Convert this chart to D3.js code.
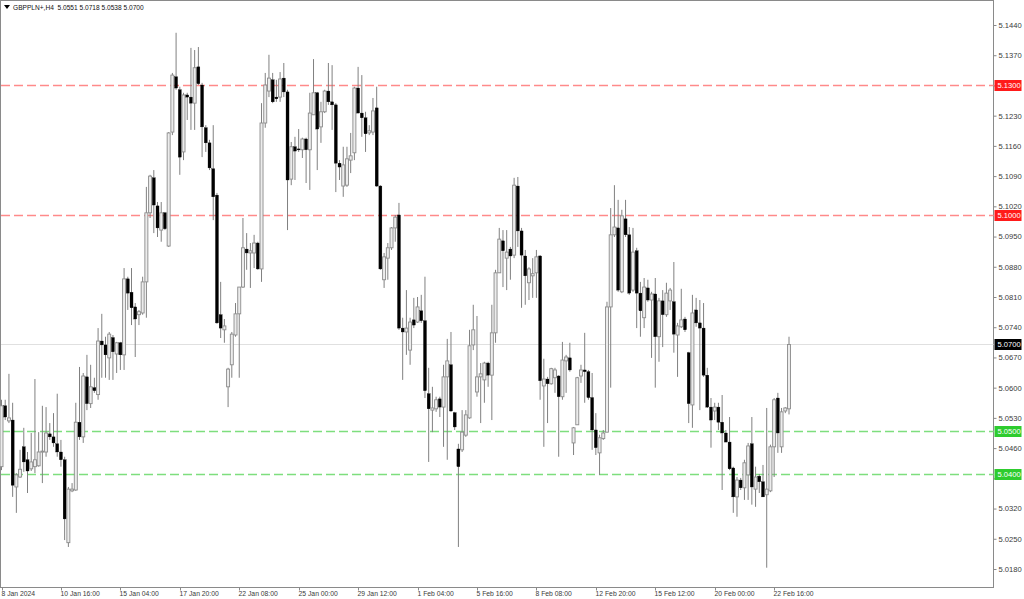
<!DOCTYPE html>
<html><head><meta charset="utf-8">
<script src="https://cdn.jsdelivr.net/npm/d3@7"></script>
<style>html,body{margin:0;padding:0;background:#fff;overflow:hidden}svg{display:block}</style>
</head><body><svg id="c" width="1024" height="599"></svg>
<script>
const symbolTitle = "GBPPLN+,H4";
const lastQuote = ["5.0551", "5.0718", "5.0538", "5.0700"];

const open = [5.0417,5.0558,5.0523,5.0525,5.0370,5.0393,5.0463,5.0433,5.0412,5.0417,
5.0419,5.0451,5.0451,5.0493,5.0486,5.0470,5.0451,5.0433,5.0241,5.0361,
5.0363,5.0520,5.0486,5.0625,5.0563,5.0600,5.0584,5.0708,5.0699,5.0669,
5.0716,5.0678,5.0704,5.0676,5.0852,5.0821,5.0787,5.0769,5.0773,5.0845,
5.1005,5.1086,5.1021,5.0965,5.1005,5.0928,5.1192,5.1320,5.1290,5.1146,
5.1278,5.1273,5.1259,5.1343,5.1301,5.1202,5.1167,5.1107,5.1046,5.0769,
5.0734,5.0602,5.0653,5.0722,5.0771,5.0833,5.0921,5.0912,5.0912,5.0935,
5.0875,5.1213,5.1287,5.1313,5.1273,5.1273,5.1317,5.1285,5.1083,5.1158,
5.1153,5.1151,5.1176,5.1151,5.1232,5.1283,5.1204,5.1239,5.1287,5.1262,
5.1255,5.1120,5.1067,5.1069,5.1127,5.1144,5.1294,5.1236,5.1225,5.1190,
5.1192,5.1248,5.1067,5.0850,5.0900,5.0924,5.0970,5.1000,5.0738,5.0729,
5.0687,5.0757,5.0752,5.0778,5.0755,5.0586,5.0548,5.0551,5.0574,5.0555,
5.0625,5.0653,5.0542,5.0458,5.0456,5.0490,5.0530,5.0699,5.0590,5.0625,
5.0618,5.0657,5.0629,5.0727,5.0866,5.0940,5.0900,5.0921,5.0907,5.1067,
5.0963,5.0905,5.0843,5.0859,5.0866,5.0905,5.0604,5.0620,5.0609,5.0623,
5.0627,5.0579,5.0662,5.0669,5.0472,5.0514,5.0627,5.0641,5.0637,5.0577,
5.0502,5.0449,5.0482,5.0497,5.0787,5.0954,5.0970,5.0822,5.0991,5.0954,
5.0826,5.0917,5.0819,5.0762,5.0831,5.0803,5.0817,5.0718,5.0801,5.0769,
5.0801,5.0799,5.0722,5.0741,5.0759,5.0681,5.0560,5.0780,5.0750,5.0738,
5.0629,5.0555,5.0546,5.0555,5.0520,5.0495,5.0474,5.0414,5.0347,5.0386,
5.0368,5.0398,5.0470,5.0365,5.0395,5.0382,5.0352,5.0361,5.0463,5.0576,
5.0463,5.0546,5.0551];

const high = [5.0572,5.0572,5.0632,5.0565,5.0402,5.0456,5.0507,5.0451,5.0495,5.0620,
5.0497,5.0558,5.0555,5.0518,5.0541,5.0586,5.0479,5.0440,5.0370,5.0379,
5.0565,5.0648,5.0634,5.0676,5.0653,5.0623,5.0738,5.0771,5.0718,5.0729,
5.0722,5.0706,5.0706,5.0877,5.0857,5.0877,5.0796,5.0780,5.0857,5.1065,
5.1093,5.1104,5.1030,5.1030,5.1007,5.1192,5.1329,5.1422,5.1297,5.1283,
5.1283,5.1387,5.1382,5.1389,5.1306,5.1208,5.1174,5.1208,5.1051,5.0845,
5.0759,5.0646,5.0729,5.0796,5.0833,5.0993,5.0958,5.0935,5.0954,5.0938,
5.1259,5.1329,5.1371,5.1329,5.1313,5.1331,5.1352,5.1290,5.1169,5.1181,
5.1199,5.1179,5.1179,5.1283,5.1361,5.1285,5.1262,5.1290,5.1352,5.1347,
5.1259,5.1127,5.1158,5.1158,5.1190,5.1297,5.1343,5.1324,5.1239,5.1208,
5.1271,5.1297,5.1069,5.0912,5.0935,5.0972,5.1000,5.1028,5.0762,5.0826,
5.0762,5.0808,5.0810,5.0815,5.0857,5.0646,5.0602,5.0579,5.0579,5.0653,
5.0713,5.0729,5.0544,5.0470,5.0548,5.0548,5.0734,5.0792,5.0766,5.0657,
5.0660,5.0660,5.0792,5.0873,5.0970,5.0965,5.0965,5.0926,5.1086,5.1088,
5.0970,5.0919,5.0879,5.0900,5.0919,5.0907,5.0667,5.0625,5.0646,5.0646,
5.0629,5.0706,5.0676,5.0704,5.0509,5.0625,5.0653,5.0727,5.0641,5.0634,
5.0541,5.0491,5.0502,5.0799,5.1016,5.1069,5.1035,5.1012,5.1035,5.0972,
5.0970,5.0924,5.0845,5.0854,5.0850,5.0822,5.0854,5.0808,5.0826,5.0843,
5.0831,5.0891,5.0750,5.0829,5.0764,5.0683,5.0815,5.0808,5.0803,5.0796,
5.0646,5.0576,5.0565,5.0565,5.0583,5.0502,5.0532,5.0417,5.0393,5.0391,
5.0433,5.0472,5.0532,5.0417,5.0400,5.0421,5.0553,5.0468,5.0576,5.0588,
5.0553,5.0555,5.0718];

const low = [5.0409,5.0525,5.0518,5.0347,5.0310,5.0391,5.0405,5.0356,5.0407,5.0402,
5.0417,5.0379,5.0440,5.0479,5.0463,5.0440,5.0417,5.0247,5.0231,5.0358,
5.0361,5.0479,5.0472,5.0548,5.0553,5.0588,5.0572,5.0623,5.0623,5.0618,
5.0618,5.0634,5.0641,5.0641,5.0780,5.0745,5.0671,5.0745,5.0769,5.0762,
5.0993,5.0958,5.0949,5.0938,5.0965,5.0926,5.1185,5.1290,5.1093,5.1127,
5.1220,5.1197,5.1197,5.1301,5.1134,5.1146,5.1104,5.0988,5.0748,5.0715,
5.0704,5.0555,5.0623,5.0718,5.0623,5.0831,5.0873,5.0831,5.0877,5.0873,
5.0845,5.1202,5.1273,5.1259,5.1262,5.1262,5.1273,5.0965,5.1069,5.1081,
5.1146,5.1132,5.1074,5.1058,5.1232,5.1104,5.1167,5.1236,5.1255,5.1197,
5.1053,5.1081,5.1042,5.1065,5.1097,5.1127,5.1236,5.1181,5.1146,5.1185,
5.1185,5.1065,5.0873,5.0831,5.0850,5.0919,5.0938,5.0734,5.0618,5.0676,
5.0653,5.0738,5.0750,5.0750,5.0576,5.0428,5.0497,5.0544,5.0532,5.0463,
5.0433,5.0544,5.0502,5.0231,5.0451,5.0486,5.0528,5.0687,5.0579,5.0518,
5.0565,5.0602,5.0525,5.0704,5.0866,5.0833,5.0826,5.0850,5.0900,5.0926,
5.0785,5.0792,5.0803,5.0808,5.0808,5.0572,5.0463,5.0518,5.0607,5.0588,
5.0440,5.0572,5.0588,5.0637,5.0444,5.0514,5.0611,5.0565,5.0572,5.0456,
5.0444,5.0398,5.0479,5.0497,5.0600,5.0949,5.0822,5.0819,5.0949,5.0815,
5.0822,5.0738,5.0718,5.0738,5.0799,5.0669,5.0600,5.0660,5.0694,5.0764,
5.0780,5.0681,5.0625,5.0738,5.0729,5.0518,5.0507,5.0741,5.0548,5.0625,
5.0553,5.0461,5.0525,5.0502,5.0363,5.0474,5.0409,5.0310,5.0301,5.0363,
5.0340,5.0340,5.0329,5.0324,5.0356,5.0347,5.0183,5.0358,5.0393,5.0449,
5.0449,5.0541,5.0538];

const close = [5.0558,5.0532,5.0530,5.0374,5.0398,5.0411,5.0428,5.0407,5.0428,5.0433,
5.0451,5.0453,5.0495,5.0486,5.0472,5.0451,5.0433,5.0296,5.0365,5.0365,
5.0520,5.0486,5.0627,5.0563,5.0602,5.0593,5.0708,5.0699,5.0676,5.0724,
5.0683,5.0704,5.0676,5.0852,5.0819,5.0785,5.0759,5.0776,5.0845,5.1005,
5.1090,5.1023,5.0970,5.1005,5.0968,5.1190,5.1324,5.1294,5.1134,5.1278,
5.1273,5.1259,5.1341,5.1304,5.1204,5.1167,5.1109,5.1042,5.0750,5.0738,
5.0743,5.0643,5.0724,5.0771,5.0833,5.0924,5.0912,5.0917,5.0935,5.0875,
5.1213,5.1301,5.1317,5.1262,5.1269,5.1315,5.1285,5.1081,5.1158,5.1148,
5.1151,5.1176,5.1151,5.1236,5.1283,5.1199,5.1239,5.1287,5.1262,5.1255,
5.1120,5.1111,5.1116,5.1130,5.1137,5.1294,5.1236,5.1225,5.1188,5.1195,
5.1241,5.1067,5.0875,5.0903,5.0924,5.0970,5.0995,5.0738,5.0729,5.0738,
5.0752,5.0745,5.0787,5.0755,5.0593,5.0551,5.0553,5.0572,5.0555,5.0625,
5.0662,5.0546,5.0509,5.0417,5.0497,5.0537,5.0697,5.0734,5.0625,5.0632,
5.0657,5.0629,5.0727,5.0866,5.0944,5.0917,5.0914,5.0905,5.1069,5.0963,
5.0907,5.0859,5.0875,5.0864,5.0903,5.0616,5.0620,5.0609,5.0644,5.0641,
5.0579,5.0664,5.0671,5.0641,5.0507,5.0623,5.0641,5.0637,5.0577,5.0502,
5.0461,5.0484,5.0495,5.0787,5.0954,5.0972,5.0826,5.0998,5.0954,5.0819,
5.0914,5.0819,5.0778,5.0833,5.0803,5.0817,5.0718,5.0801,5.0769,5.0819,
5.0826,5.0724,5.0743,5.0757,5.0734,5.0563,5.0773,5.0750,5.0738,5.0629,
5.0555,5.0525,5.0555,5.0520,5.0495,5.0474,5.0412,5.0347,5.0386,5.0368,
5.0426,5.0465,5.0370,5.0393,5.0382,5.0347,5.0365,5.0463,5.0572,5.0495,
5.0544,5.0553,5.0700];

const timeLabels = ["8 Jan 2024","10 Jan 16:00","15 Jan 04:00","17 Jan 20:00","22 Jan 08:00",
"25 Jan 00:00","29 Jan 12:00","1 Feb 04:00","5 Feb 16:00","8 Feb 08:00","12 Feb 20:00",
"15 Feb 12:00","20 Feb 00:00","22 Feb 16:00"];
const timeLabelBars = [0,16,32,48,64,80,96,112,128,144,160,176,192,208];

const priceTicks = ["5.1440","5.1370","5.1300","5.1230","5.1160","5.1090","5.1020","5.0950",
"5.0880","5.0810","5.0740","5.0670","5.0600","5.0530","5.0460","5.0390","5.0320","5.0250","5.0180"];

const levelPrices = [5.1300, 5.1000, 5.0500, 5.0400];
const levelLineColors = ["#ff8a8a", "#ff8a8a", "#7ede7e", "#7ede7e"];
const levelBoxColors = ["#ff1a1a", "#ff1a1a", "#2ecc2e", "#2ecc2e"];
const currentPrice = 5.0700;

// ---- drawing ----
const plotRight = 993.5, plotBottom = 587.5;
const svg = d3.select("#c");
const font = "'Liberation Sans', Arial, sans-serif";

const bars = open.map((o, i) => ({i, o, h: high[i], l: low[i], c: close[i]}));

const x = d3.scaleLinear().domain([0, bars.length - 1]).range([1.5, 789]);
const y = d3.scaleLinear().domain([5.0180, 5.1440]).range([569, 25]);

// frame
svg.append("rect").attr("x", 0.5).attr("y", 0.5)
  .attr("width", plotRight - 0.5).attr("height", plotBottom - 0.5)
  .attr("fill", "#fff").attr("stroke", "#8a8a8a").attr("stroke-width", 1);

// current price line
svg.append("line").attr("x1", 1).attr("x2", plotRight)
  .attr("y1", Math.round(y(currentPrice)) + 0.5).attr("y2", Math.round(y(currentPrice)) + 0.5)
  .style("stroke", "#e0e0e0").style("stroke-width", 1);

// level lines
const lv = svg.append("g").attr("class", "levels");
levelPrices.forEach((p, k) => {
  const yy = Math.round(y(p)) + 0.5;
  lv.append("line").attr("x1", 1).attr("x2", plotRight).attr("y1", yy).attr("y2", yy)
    .style("stroke", levelLineColors[k]).style("stroke-width", 1.3)
    .style("stroke-dasharray", "9,4");
});

// candles
const g = svg.append("g");
const bw = 3;
g.selectAll("line.wick").data(bars).join("line").attr("class", "wick")
  .attr("x1", d => x(d.i)).attr("x2", d => x(d.i))
  .attr("y1", d => y(d.h)).attr("y2", d => y(d.l))
  .style("stroke", "#808080").style("stroke-width", 1);
g.selectAll("rect.body").data(bars).join("rect").attr("class", "body")
  .attr("x", d => x(d.i) - bw / 2)
  .attr("y", d => y(Math.max(d.o, d.c)))
  .attr("width", bw)
  .attr("height", d => Math.max(1, Math.abs(y(d.o) - y(d.c))))
  .style("fill", d => d.c >= d.o ? "#ececec" : "#000000")
  .style("stroke", d => d.c >= d.o ? "#8c8c8c" : "#000000")
  .style("stroke-width", d => d.c >= d.o ? 0.9 : 0.3);

// right price axis
const hiddenTick = v => levelPrices.some(p => Math.abs(y(p) - y(v)) < 7);
const yAxis = d3.axisRight(y).tickValues(priceTicks.map(Number))
  .tickFormat((d, k) => hiddenTick(d) ? "" : priceTicks[k]).tickSize(3).tickPadding(2);
const ya = svg.append("g").attr("transform", `translate(${plotRight},0)`).call(yAxis);
ya.select(".domain").remove();
ya.selectAll("line").style("stroke", "#8a8a8a");
ya.selectAll("text").attr("font-family", font).attr("font-size", 7.6).attr("fill", "#3a3a3a");

// bottom time axis
const xa = svg.append("g").attr("transform", `translate(0,${plotBottom})`);
const tk = xa.selectAll("g").data(timeLabelBars).join("g")
  .attr("transform", d => `translate(${Math.round(x(d)) + 0.5},0)`);
tk.append("line").attr("y1", 0).attr("y2", 3).style("stroke", "#8a8a8a");
tk.append("text").text((d, k) => timeLabels[k]).attr("x", -1).attr("y", 8.5)
  .attr("font-family", font).attr("font-size", 6.8).attr("fill", "#3a3a3a");

// price level boxes
function priceBox(val, bg) {
  const yy = Math.round(y(val));
  const gg = svg.append("g");
  gg.append("rect").attr("x", plotRight + 1).attr("y", yy - 5).attr("width", 27).attr("height", 11).style("fill", bg);
  gg.append("text").attr("x", plotRight + 4).attr("y", yy + 3).text(val.toFixed(4))
    .attr("font-family", font).attr("font-size", 7.6).attr("fill", "#fff");
}
levelPrices.forEach((p, k) => priceBox(p, levelBoxColors[k]));
priceBox(currentPrice, "#000");

// header
svg.append("path").attr("d", "M4,5 L10,5 L7,9 Z").style("fill", "#000");
svg.append("text").attr("x", 13).attr("y", 10)
  .text(symbolTitle + "  " + lastQuote.join(" "))
  .attr("font-family", font).attr("font-size", 6.6).attr("fill", "#111")
  .style("white-space", "pre");
</script>
</body></html>
